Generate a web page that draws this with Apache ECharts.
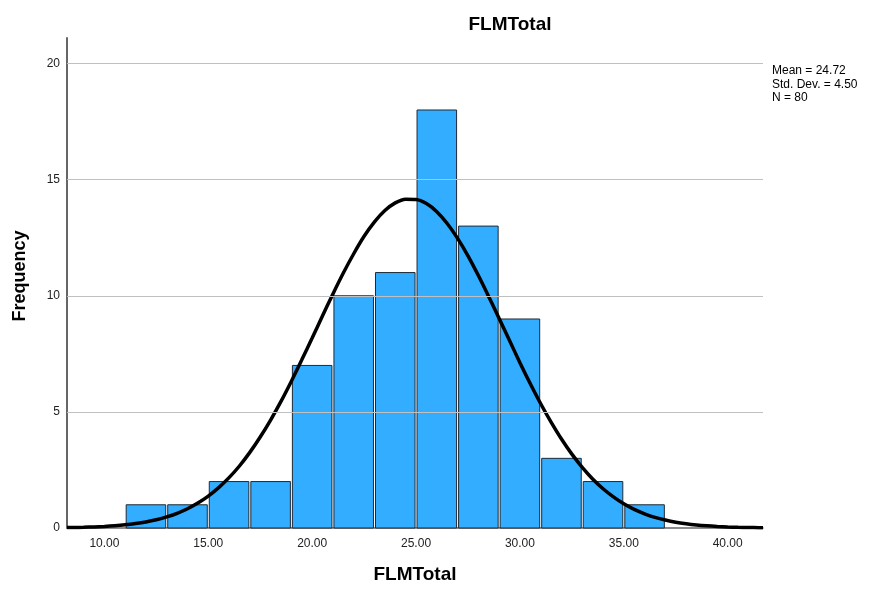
<!DOCTYPE html>
<html>
<head>
<meta charset="utf-8">
<script src="https://cdn.jsdelivr.net/npm/echarts@6/dist/echarts.min.js"></script>
<style>
  html, body { margin: 0; padding: 0; background: #fff; }
  #main { width: 869px; height: 589px; }
</style>
</head>
<body>
<div id="main"></div>
<script>
// histogram bins (lower edge, upper edge) and counts
var binStart = [11, 13, 15, 17, 19, 21, 23, 25, 27, 29, 31, 33, 35];
var binEnd   = [13, 15, 17, 19, 21, 23, 25, 27, 29, 31, 33, 35, 37];
var counts   = [1, 1, 2, 2, 7, 10, 11, 18, 13, 9, 3, 2, 1];

// normal curve (every half unit)
var curveX = [8.2, 8.5, 9, 9.5, 10, 10.5, 11, 11.5, 12, 12.5, 13, 13.5, 14, 14.5, 15, 15.5, 16, 16.5, 17, 17.5,
              18, 18.5, 19, 19.5, 20, 20.5, 21, 21.5, 22, 22.5, 23, 23.5, 24, 24.5, 25, 25.5, 26, 26.5, 27, 27.5,
              28, 28.5, 29, 29.5, 30, 30.5, 31, 31.5, 32, 32.5, 33, 33.5, 34, 34.5, 35, 35.5, 36, 36.5, 37, 37.5,
              38, 38.5, 39, 39.5, 40, 40.5, 41, 41.5, 41.7];
var curveY = [0.017, 0.021, 0.03, 0.047, 0.067, 0.096, 0.136, 0.19, 0.261, 0.355, 0.477, 0.634, 0.831, 1.075, 1.375, 1.74, 2.169, 2.67, 3.256, 3.92,
              4.65, 5.45, 6.321, 7.24, 8.18, 9.14, 10.08, 10.98, 11.81, 12.56, 13.18, 13.67, 14.0, 14.16, 14.15, 13.97, 13.62, 13.11, 12.47, 11.72,
              10.87, 9.96, 9.02, 8.07, 7.12, 6.21, 5.35, 4.56, 3.83, 3.18, 2.61, 2.11, 1.69, 1.34, 1.04, 0.8, 0.613, 0.46, 0.343, 0.25,
              0.182, 0.13, 0.092, 0.065, 0.045, 0.03, 0.02, 0.014, 0.011];

var xTicks = [10, 15, 20, 25, 30, 35, 40];
var yTicks = [0, 5, 10, 15, 20];

var statLines = ['Mean = 24.72', 'Std. Dev. = 4.50', 'N = 80'];

var chart = echarts.init(document.getElementById('main'));

var barData = [];
for (var i = 0; i < counts.length; i++) {
    barData.push([binStart[i], binEnd[i], counts[i]]);
}
var lineData = [];
for (var j = 0; j < curveX.length; j++) {
    lineData.push([curveX[j], curveY[j]]);
}

var font = 'Liberation Sans, Arial, sans-serif';

var option = {
    animation: false,
    backgroundColor: '#fff',
    title: {
        text: 'FLMTotal',
        left: 505,
        top: 10,
        textAlign: 'center',
        textStyle: { fontFamily: font, fontSize: 19, fontWeight: 'bold', color: '#000' }
    },
    graphic: [{
        type: 'text',
        left: 772,
        top: 64,
        style: {
            text: statLines.join('\n'),
            font: '12px ' + font,
            lineHeight: 13.5,
            fill: '#000'
        }
    }, {
        type: 'text',
        x: 20,
        y: 276,
        rotation: Math.PI / 2,
        style: {
            text: 'Frequency',
            font: 'bold 18px ' + font,
            align: 'center',
            verticalAlign: 'middle',
            fill: '#000'
        }
    }],
    grid: { left: 67, right: 106, top: 38, bottom: 61, outerBoundsMode: 'none', containLabel: false },
    xAxis: {
        type: 'value',
        min: 8.2,
        max: 41.7,
        name: 'FLMTotal',
        nameLocation: 'middle',
        nameGap: 37,
        nameTextStyle: { fontFamily: font, fontSize: 19, fontWeight: 'bold', color: '#000' },
        axisLine: { show: true, lineStyle: { color: '#666', width: 1.5 } },
        axisTick: { show: false },
        splitLine: { show: false },
        axisLabel: {
            customValues: xTicks,
            fontFamily: font, fontSize: 12, color: '#222', margin: 10,
            formatter: function (v) { return v.toFixed(2); }
        }
    },
    yAxis: {
        type: 'value',
        min: 0,
        max: 21.1,
        axisLine: { show: true, lineStyle: { color: '#666', width: 2 } },
        axisTick: { show: false },
        splitLine: { show: false },
        axisLabel: {
            customValues: yTicks,
            fontFamily: font, fontSize: 12, color: '#222', margin: 7
        }
    },
    series: [{
        // grid lines behind the bars
        type: 'line',
        data: [],
        markLine: {
            silent: true,
            symbol: 'none',
            label: { show: false },
            lineStyle: { color: '#c0c0c0', type: 'solid', width: 1.2 },
            data: yTicks.slice(1).map(function (v) { return { yAxis: v }; })
        },
        z: 1
    }, {
        type: 'custom',
        z: 2,
        renderItem: function (params, api) {
            var p0 = api.coord([api.value(0), api.value(2)]);
            var p1 = api.coord([api.value(1), 0]);
            return {
                type: 'rect',
                shape: { x: p0[0] + 1, y: p0[1], width: p1[0] - p0[0] - 2, height: p1[1] - p0[1] },
                style: { fill: '#33adff', stroke: '#1e2a36', lineWidth: 1 }
            };
        },
        encode: { x: [0, 1], y: 2 },
        data: barData
    }, {
        type: 'line',
        z: 3,
        smooth: 0.3,
        symbol: 'none',
        lineStyle: { color: '#000', width: 3.5 },
        data: lineData
    }]
};

chart.setOption(option);
</script>
</body>
</html>
